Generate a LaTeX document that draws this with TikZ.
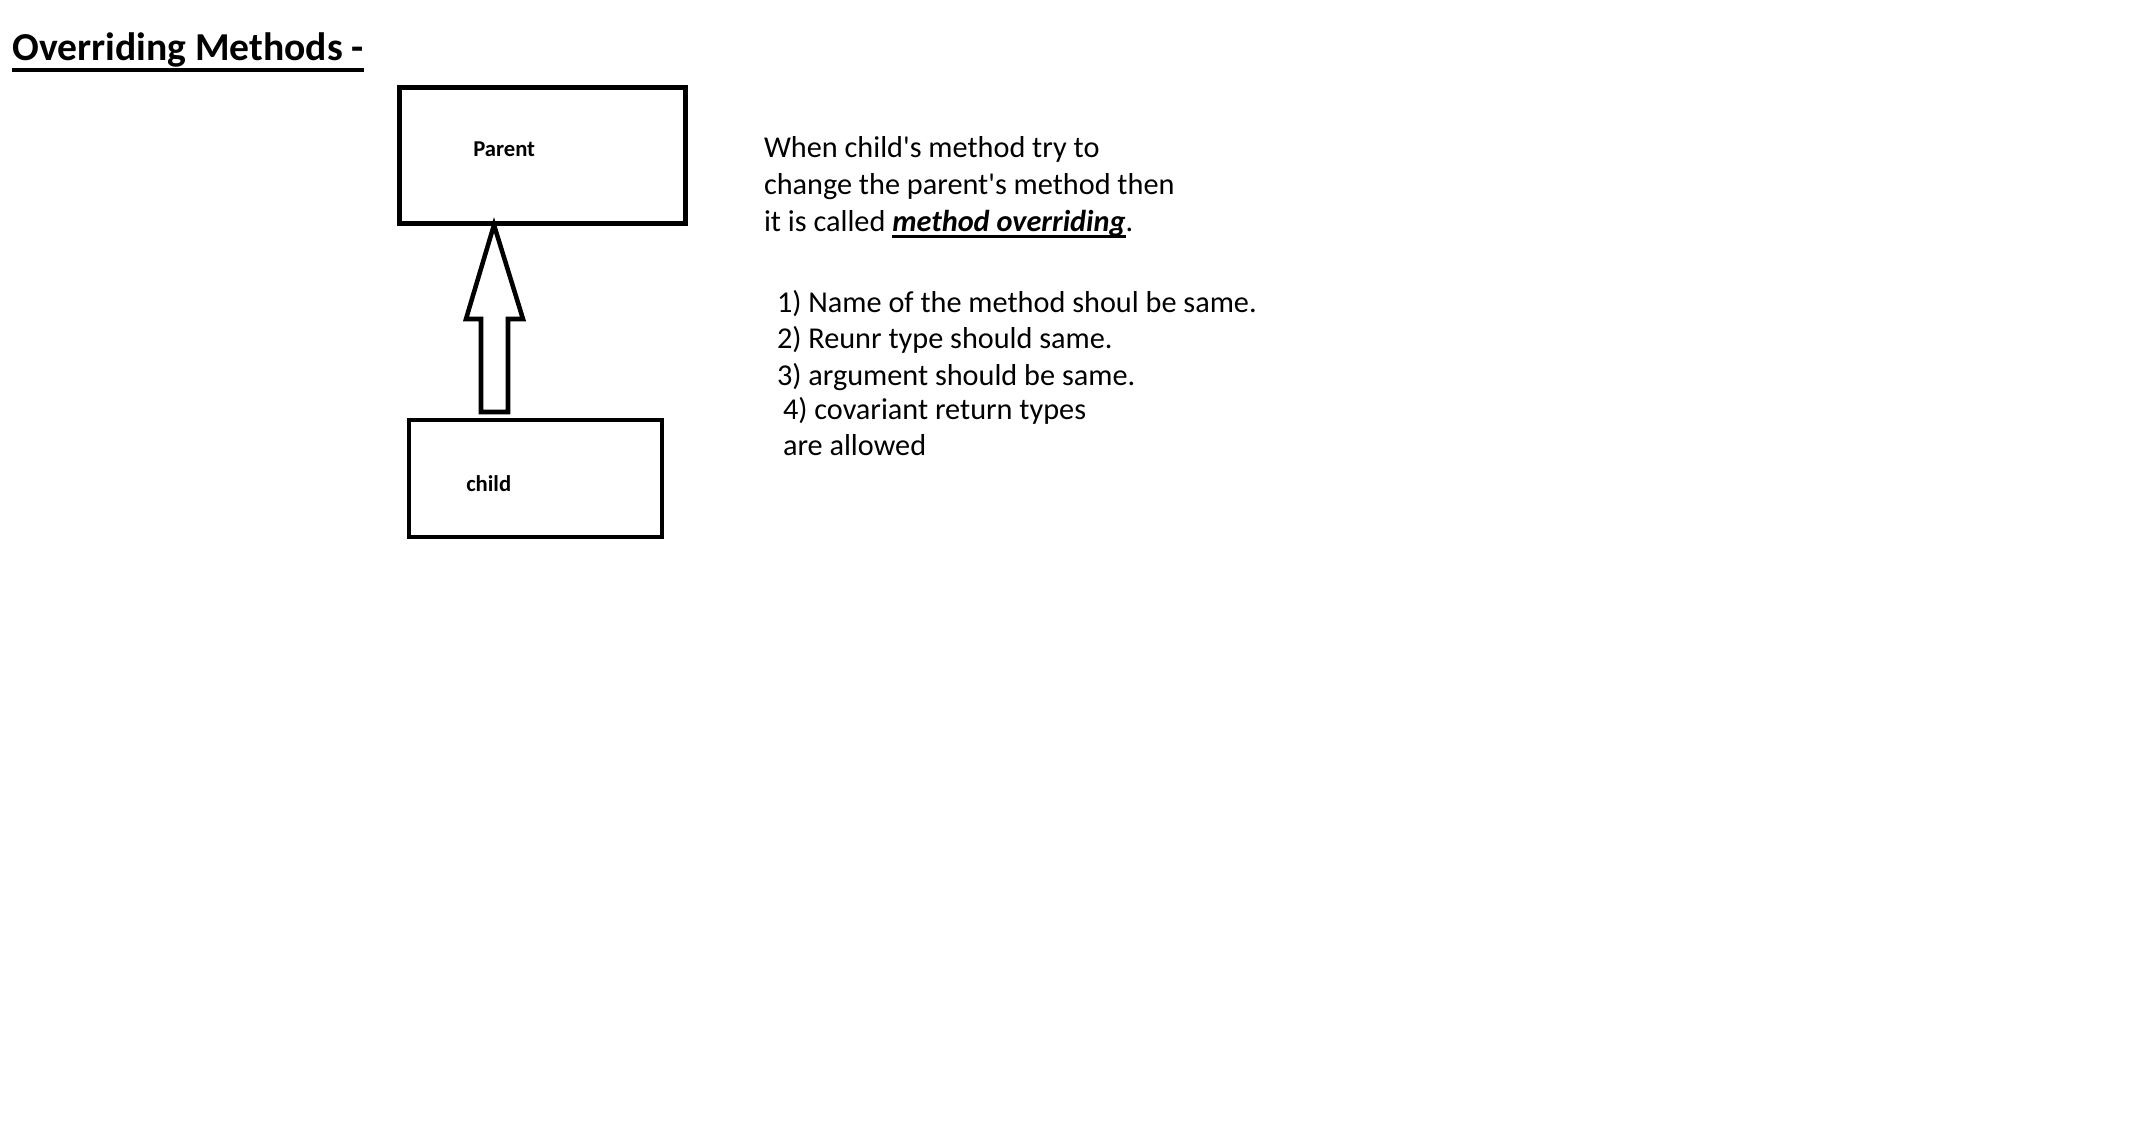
\documentclass[tikz,border=0pt]{standalone}
\usepackage{fontspec}
\setmainfont{Carlito}
\usetikzlibrary{calc}

% underline with a rule of given depth and thickness
\newcommand\ulrule[3]{\setbox0\hbox{#3}\rlap{\rule[-#1]{\wd0}{#2}}\box0}
% straight apostrophe
\newcommand\apos{\textquotesingle}

\begin{document}
\begin{tikzpicture}[x=0.75pt,y=-0.75pt,
  txt/.style={anchor=base west,inner sep=0pt,outer sep=0pt,font=\fontsize{22.7}{27}\selectfont},
  boxlabel/.style={anchor=base west,inner sep=0pt,font=\fontsize{17}{20}\selectfont\bfseries},
  classbox/.style={draw,line width=3.5pt,inner sep=0pt},
  blockarrow/.style={draw,line width=3.4pt,line join=miter,fill=white}]

\fill[white] (0,0) rectangle (2130,1134);
\useasboundingbox (0,0) rectangle (2130,1134);

% heading
\node[anchor=base west,inner sep=0pt,font=\fontsize{29.7}{34}\selectfont\bfseries]
  (title) at (12,61) {\ulrule{8.5pt}{3pt}{Overriding Methods -}};

% class boxes
\node[classbox,minimum width=214.5pt,minimum height=102pt] (parent) at (542.5,155.5) {};
\node[classbox,minimum width=189.75pt,minimum height=87.75pt] (child) at (535.5,478.5) {};
\node[boxlabel] (parentlbl) at (473,157) {Parent};
\node[boxlabel] (childlbl) at (466,491) {child};

% hollow block arrow from child up to parent
\coordinate (tip) at (494,225);
\coordinate (tail) at (494.5,412);
\draw[blockarrow]
  (tip) -- ($(tip)+(29,94)$) -- ($(tip)+(14,94)$) -- ($(tail)+(13.5,0)$)
  -- ($(tail)+(-13.5,0)$) -- ($(tip)+(-13,94)$) -- ($(tip)+(-28,94)$) -- cycle;

% description
\node[txt] (d1) at (764,158) {When child\apos s method try to};
\node[txt] (d2) at (764,195) {change the parent\apos s method then};
\node[txt] (d3) at (764,232) {it is called \ulrule{4.4pt}{2.4pt}{\bfseries\itshape method overriding}.};

% rules
\node[txt] (r1) at (777,312.5) {1) Name of the method shoul be same.};
\node[txt] (r2) at (777,348.5) {2) Reunr type should same.};
\node[txt] (r3) at (777,385.5) {3) argument should be same.};
\node[txt] (r4) at (783,419.5) {4) covariant return types};
\node[txt] (r5) at (783,455.5) {are allowed};

\end{tikzpicture}
\end{document}
